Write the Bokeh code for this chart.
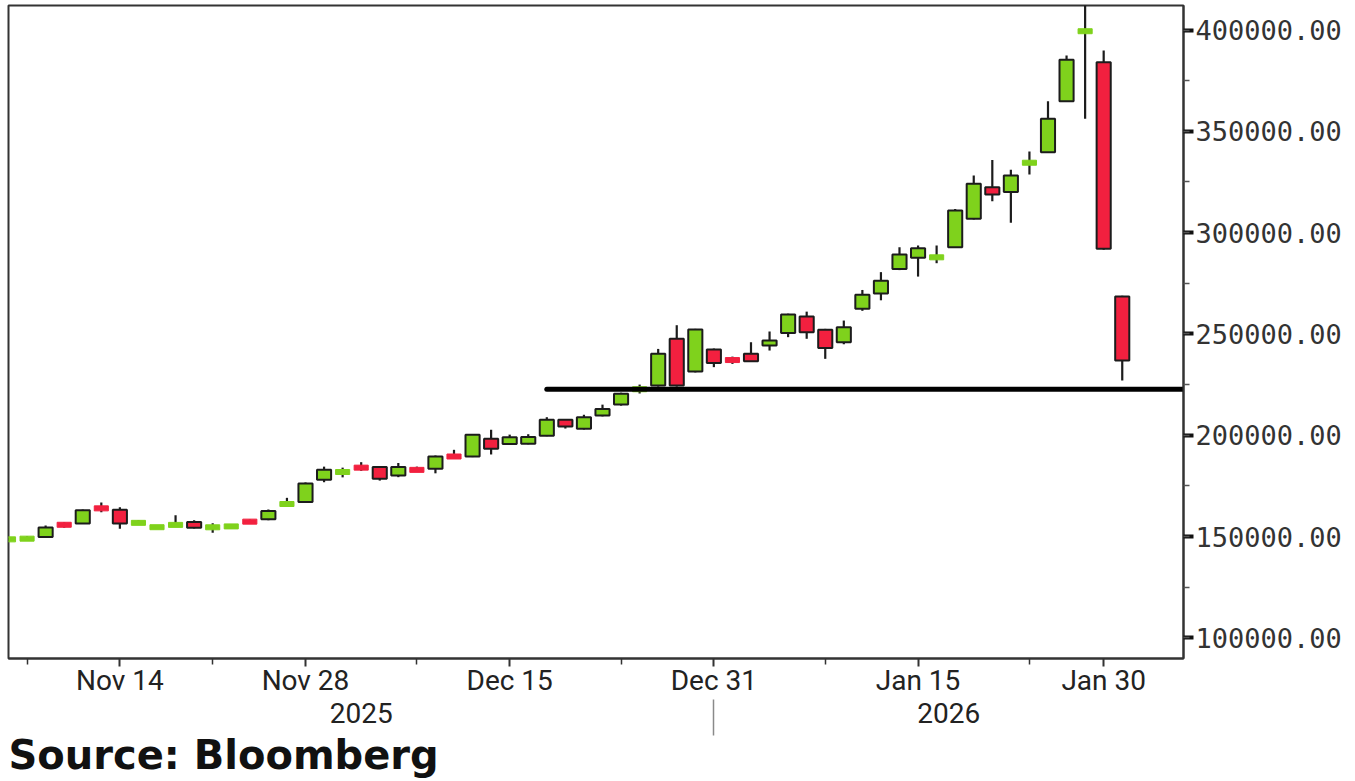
from bokeh.plotting import figure
from bokeh.models import (ColumnDataSource, FixedTicker, SingleIntervalTicker,
                          NumeralTickFormatter, LinearAxis, Range1d, Title)
from bokeh.embed import file_html
from bokeh.resources import INLINE

# ---------------- data ----------------
dates = ["2025-11-06", "2025-11-07", "2025-11-10", "2025-11-11", "2025-11-12", "2025-11-13",
         "2025-11-14", "2025-11-17", "2025-11-18", "2025-11-19", "2025-11-20", "2025-11-21",
         "2025-11-24", "2025-11-25", "2025-11-26", "2025-11-27", "2025-11-28", "2025-12-01",
         "2025-12-02", "2025-12-03", "2025-12-04", "2025-12-05", "2025-12-08", "2025-12-09",
         "2025-12-10", "2025-12-11", "2025-12-12", "2025-12-15", "2025-12-16", "2025-12-17",
         "2025-12-18", "2025-12-19", "2025-12-22", "2025-12-23", "2025-12-24", "2025-12-26",
         "2025-12-29", "2025-12-30", "2025-12-31", "2026-01-01", "2026-01-02", "2026-01-05",
         "2026-01-06", "2026-01-07", "2026-01-08", "2026-01-09", "2026-01-12", "2026-01-13",
         "2026-01-14", "2026-01-15", "2026-01-16", "2026-01-19", "2026-01-20", "2026-01-21",
         "2026-01-22", "2026-01-23", "2026-01-27", "2026-01-28", "2026-01-29", "2026-01-30",
         "2026-02-01"]

opens = [148300, 148600, 149800, 156100, 156400, 164500, 163200, 156400, 154200, 155500,
         157200, 154200, 154700, 157800, 158500, 165600, 167100, 178000, 181500, 184800,
         184300, 180100, 183200, 183400, 189800, 189500, 198200, 195700, 195800, 199800,
         207600, 203200, 209700, 215200, 222400, 224500, 247600, 231400, 242300, 237400,
         240200, 244300, 250500, 258600, 252000, 245900, 262400, 270000, 282100, 287600,
         287300, 292800, 306800, 322400, 320000, 334000, 339700, 364900, 399000, 384100,
         268500]
highs = [149300, 150200, 155500, 157000, 163300, 166800, 164500, 158200, 155300, 160500,
         158000, 156600, 155700, 158400, 163300, 169100, 176700, 184500, 184000, 186700,
         184700, 186300, 184500, 190000, 192800, 200600, 202700, 200300, 200500, 208900,
         208000, 210100, 215100, 221000, 225000, 242600, 254300, 252500, 242800, 238800,
         245900, 251200, 260000, 261000, 252500, 256600, 271700, 280500, 292800, 293600,
         293600, 311700, 328200, 335900, 331000, 340000, 364900, 387400, 416000, 389900,
         268800]
lows = [147900, 148200, 149500, 154300, 156300, 162000, 153900, 156100, 153700, 155300,
        154000, 151900, 154300, 156500, 158000, 165000, 166800, 176800, 179200, 182400,
        177600, 179300, 182300, 181200, 188900, 189200, 190500, 195300, 195500, 199500,
        203300, 202800, 209300, 214600, 220600, 224000, 224000, 231000, 233600, 235200,
        236300, 241800, 248400, 247600, 237700, 244900, 261400, 266600, 281500, 278300,
        284900, 292500, 306500, 315500, 304900, 328700, 339500, 364600, 356200, 291500,
        227000]
closes = [148900, 149300, 154500, 155500, 163000, 163300, 156400, 157100, 155000, 156000,
          154300, 154900, 155300, 156900, 162600, 166500, 176200, 182900, 182200, 183200,
          178500, 184300, 182600, 189500, 189200, 200200, 193300, 199000, 199100, 207700,
          204300, 208900, 213000, 220500, 223000, 240200, 224500, 252200, 235700, 236800,
          236500, 246700, 259600, 250800, 243100, 253300, 269300, 276200, 289200, 292300,
          288300, 310900, 324100, 318800, 328200, 335000, 356200, 385300, 399800, 292000,
          236900]

major_tick_dates = ["2025-11-14", "2025-11-28", "2025-12-15", "2025-12-31", "2026-01-15", "2026-01-30"]
major_tick_labels = ["Nov 14", "Nov 28", "Dec 15", "Dec 31", "Jan 15", "Jan 30"]
minor_tick_dates = ["2025-11-07", "2025-11-21", "2025-12-08", "2025-12-23", "2026-01-08", "2026-01-23"]
years = ["2025", "2026"]
year_break_date = "2025-12-31"
support_level = 222700
support_start_date = "2025-12-17"
y_tick_interval = 50000
source_text = "Source: Bloomberg"

# ---------------- styles ----------------
GREEN = "#7fd21c"
RED = "#f2203f"
DARK = "#1c1c1c"
X_FONT = "Roboto"
Y_FONT = "DejaVu Sans Mono"

idx = list(range(len(dates)))
x_end = 63.3
y_start, y_end = 89800, 412100

p = figure(frame_width=1175, frame_height=653,
           x_range=Range1d(0, x_end), y_range=Range1d(y_start, y_end),
           y_axis_location="right", output_backend="svg", toolbar_location=None,
           min_border_left=8, min_border_top=5, min_border_right=164, min_border_bottom=118,
           background_fill_color="white", border_fill_color="white")
p.xgrid.visible = False
p.ygrid.visible = False
p.outline_line_color = "#333333"
p.outline_line_width = 2

# candles
big = dict(x=[], top=[], bottom=[], color=[])
small = dict(x=[], y=[], color=[])
for i, o, c in zip(idx, opens, closes):
    col = GREEN if c >= o else RED
    if abs(c - o) >= 2000:
        big["x"].append(i); big["top"].append(max(o, c)); big["bottom"].append(min(o, c)); big["color"].append(col)
    else:
        small["x"].append(i); small["y"].append((o + c) / 2); small["color"].append(col)

p.segment(x0=idx, y0=lows, x1=idx, y1=highs, line_color=DARK, line_width=2.2)
p.vbar(x="x", top="top", bottom="bottom", width=0.76, fill_color="color",
       line_color=DARK, line_width=2, source=ColumnDataSource(big))
p.rect(x="x", y="y", width=0.76, height=5, height_units="screen", fill_color="color",
       line_color="color", line_width=1, source=ColumnDataSource(small))

# support line
s0 = dates.index(support_start_date)
p.segment(x0=[s0], y0=[support_level], x1=[x_end], y1=[support_level],
          line_color="black", line_width=5, line_cap="round")

# x axis
major_idx = [dates.index(d) for d in major_tick_dates]
minor_idx = [dates.index(d) for d in minor_tick_dates]
xa = p.xaxis[0]
xa.ticker = FixedTicker(ticks=major_idx, minor_ticks=minor_idx)
xa.major_label_overrides = {i: l for i, l in zip(major_idx, major_tick_labels)}
xa.axis_line_color = "#333333"
xa.axis_line_width = 2
xa.major_tick_out = 8
xa.major_tick_in = 0
xa.minor_tick_out = 6
xa.minor_tick_in = 0
xa.major_tick_line_color = "#333333"
xa.minor_tick_line_color = "#333333"
xa.major_tick_line_width = 2
xa.minor_tick_line_width = 1.5
xa.major_label_text_font = X_FONT
xa.major_label_text_font_size = "28px"
xa.major_label_text_color = "#222222"
xa.major_label_standoff = -3

# year axis (labels centred on each year's visible span, divider at the year break)
brk = dates.index(year_break_date)
year_pos = [(0 + brk) / 2, (brk + x_end) / 2]
yax = LinearAxis(ticker=FixedTicker(ticks=year_pos, minor_ticks=[brk]))
yax.major_label_overrides = {v: t for v, t in zip(year_pos, years)}
yax.axis_line_color = None
yax.major_tick_line_color = None
yax.major_tick_out = 0
yax.major_tick_in = 0
yax.minor_tick_out = 36
yax.minor_tick_in = 0
yax.minor_tick_line_color = "#8a8a8a"
yax.minor_tick_line_width = 1.5
yax.major_label_text_font = X_FONT
yax.major_label_text_font_size = "28px"
yax.major_label_text_color = "#222222"
yax.major_label_standoff = -33
p.add_layout(yax, "below")

src = Title(text=source_text, align="left", text_font="DejaVu Sans", text_font_style="bold",
            text_font_size="40px", text_color="#111111", standoff=8, offset=0)
p.add_layout(src, "below")

# y axis (right)
ya = p.yaxis[0]
ya.ticker = SingleIntervalTicker(interval=y_tick_interval, num_minor_ticks=2)
ya.formatter = NumeralTickFormatter(format="0.00")
ya.axis_line_color = "#333333"
ya.axis_line_width = 2
ya.major_tick_out = 10
ya.major_tick_in = 0
ya.major_tick_line_width = 4
ya.major_tick_line_color = "#111111"
ya.minor_tick_out = 6
ya.minor_tick_in = 0
ya.minor_tick_line_width = 1.5
ya.minor_tick_line_color = "#555555"
ya.major_label_text_font = Y_FONT
ya.major_label_text_font_size = "27px"
ya.major_label_text_color = "#333333"
ya.major_label_standoff = 2

open("out.html", "w").write(file_html(p, INLINE))
